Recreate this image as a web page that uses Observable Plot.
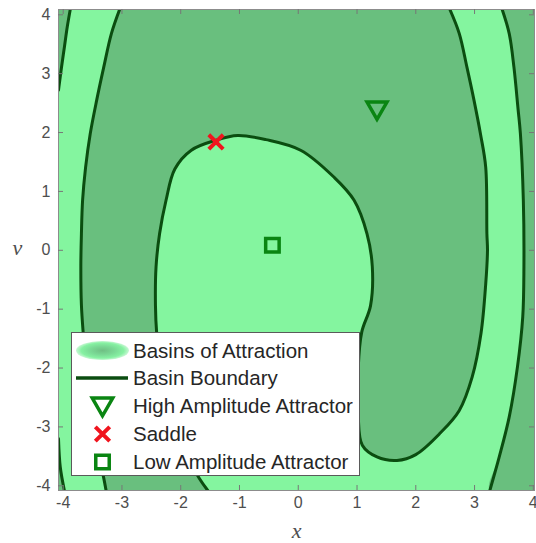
<!DOCTYPE html>
<html><head><meta charset="utf-8">
<script src="https://cdn.jsdelivr.net/npm/d3@7"></script>
<script src="https://cdn.jsdelivr.net/npm/@observablehq/plot@0.6"></script>
<style>
html,body{margin:0;padding:0;background:#fff;}
#wrap{position:relative;width:536px;height:543px;}
#legend{position:absolute;left:71px;top:332px;}
</style></head><body><div id="wrap"></div>
<script>
// ---- data ----
const xDomain = [-4.08, 4.02];
const yDomain = [-4.08, 4.09];
const xTicks = [-4, -3, -2, -1, 0, 1, 2, 3, 4];
const yTicks = [-4, -3, -2, -1, 0, 1, 2, 3, 4];
const xLabel = "x";
const yLabel = "v";
const legendLabels = ["Basins of Attraction", "Basin Boundary", "High Amplitude Attractor", "Saddle", "Low Amplitude Attractor"];

// boundary curves [x, v]
const curveTL = [[-3.88,4.09],[-3.93,3.80],[-3.98,3.45],[-4.03,3.10],[-4.08,2.72]];
const curveBL = [[-4.08,-3.20],[-4.05,-3.68],[-3.98,-4.08]];
const curveA = [[-3.04,4.09],[-3.18,3.68],[-3.31,3.11],[-3.43,2.55],[-3.54,1.98],[-3.62,1.40],[-3.67,0.85],[-3.69,0.28],[-3.70,-0.28],[-3.69,-0.93],[-3.66,-1.40],[-3.60,-2.10],[-3.51,-2.80],[-3.41,-3.40],[-3.31,-3.87],[-3.27,-4.08]];
const curveB = [[-1.54,-4.08],[-1.68,-3.88],[-1.95,-3.40],[-2.18,-2.80],[-2.33,-2.10],[-2.41,-1.40],[-2.43,-0.94],[-2.42,-0.28],[-2.36,0.28],[-2.25,0.85],[-2.10,1.38],[-1.82,1.70],[-1.40,1.87],[-1.03,1.95],[-0.55,1.88],[0.04,1.70],[0.61,1.24],[0.95,0.85],[1.17,0.28],[1.26,-0.28],[1.23,-0.94],[1.08,-1.39],[1.02,-2.00],[1.02,-2.80],[1.09,-3.31],[1.34,-3.51],[1.68,-3.57],[2.00,-3.47],[2.42,-3.10],[2.74,-2.72],[2.96,-2.15],[3.11,-1.41],[3.19,-0.57],[3.22,0.00],[3.21,0.28],[3.19,1.41],[3.10,1.98],[2.99,2.55],[2.87,3.11],[2.74,3.68],[2.58,4.09]];
const curveC = [[3.47,4.09],[3.59,3.68],[3.67,3.11],[3.74,2.40],[3.78,1.98],[3.83,0.85],[3.84,-0.28],[3.82,-1.13],[3.73,-1.98],[3.59,-2.83],[3.42,-3.51],[3.26,-4.08]];

// attractors / saddle
const highAmp = [[1.34, 2.42]];
const saddle = [[-1.40, 1.84]];
const lowAmp = [[-0.44, 0.085]];

// ---- styles ----
const light = "#84f59f";
const dark = "#69bf7e";
const boundary = "#0b4d10";
const green = "#0a8512";
const red = "#f0141e";
const axisGray = "#4e4e4e";
const textColor = "#262626";

// basin polygons (dark basin)
const [x0, x1] = xDomain, [y0, y1] = yDomain;
const polyTL = [...curveTL, [x0, y1]];
const polyBL = [...curveBL, [x0, y0]];
const polyBand = [...curveA, ...curveB];
const polyRight = [...curveC, [x1, y0], [x1, y1]];

const W = 536, H = 543, mL = 58, mR = 2, mT = 9, mB = 53;
const fH = H - mT - mB, fW = W - mL - mR, tk = 5;
const X = d => d[0], Y = d => d[1];

const poly = (p, curve) => Plot.line(p, {x: X, y: Y, fill: dark, stroke: "none", clip: true, curve});
const bnd = c => Plot.line(c, {x: X, y: Y, stroke: boundary, strokeWidth: 3, clip: true, curve: "catmull-rom"});

const chart = Plot.plot({
  width: W, height: H,
  marginLeft: mL, marginRight: mR, marginTop: mT, marginBottom: mB,
  x: {domain: xDomain},
  y: {domain: yDomain},
  style: {fontFamily: "'Liberation Sans', Arial, sans-serif", background: "white", color: axisGray},
  marks: [
    Plot.frame({fill: light, stroke: "none"}),
    poly(polyTL, "linear"), poly(polyBL, "linear"),
    poly(polyBand, "catmull-rom"), poly(polyRight, "catmull-rom"),
    bnd(curveTL), bnd(curveBL), bnd(curveA), bnd(curveB), bnd(curveC),
    Plot.dot(highAmp, {x: X, y: Y, symbol: "triangle", rotate: 180, r: 7.4, stroke: green, strokeWidth: 3.5, fill: "none"}),
    Plot.dot(saddle, {x: X, y: Y, symbol: "times", r: 6.6, stroke: red, strokeWidth: 4}),
    Plot.dot(lowAmp, {x: X, y: Y, symbol: "square", r: 7.6, stroke: green, strokeWidth: 3.5, fill: "none"}),
    Plot.frame({stroke: "#8c8c8c", strokeWidth: 1}),
    Plot.ruleX(xTicks, {x: d => d, insetTop: fH - tk, stroke: "#777"}),
    Plot.ruleX(xTicks, {x: d => d, insetBottom: fH - tk, stroke: "#777"}),
    Plot.ruleY(yTicks, {y: d => d, insetRight: fW - tk, stroke: "#777"}),
    Plot.ruleY(yTicks, {y: d => d, insetLeft: fW - tk, stroke: "#777"}),
    Plot.axisX(xTicks, {tickSize: 0, tickPadding: 6, fontSize: 16, color: axisGray, label: null, tickFormat: d => String(d)}),
    Plot.axisY(yTicks, {tickSize: 0, tickPadding: 8, fontSize: 16, color: axisGray, label: null, tickFormat: d => String(d)}),
    Plot.text([xLabel], {frameAnchor: "bottom", dy: 47, text: d => d, fontFamily: "'Liberation Serif', 'Times New Roman', serif", fontStyle: "italic", fontSize: 22, fill: axisGray}),
    Plot.text([yLabel], {frameAnchor: "left", dx: -46, dy: -2, text: d => d, fontFamily: "'Liberation Serif', 'Times New Roman', serif", fontStyle: "italic", fontSize: 22, fill: axisGray})
  ]
});
document.getElementById("wrap").appendChild(chart);

// ---- legend (overlay) ----
const lg = d3.select("#wrap").append("svg").attr("id", "legend")
  .attr("width", 292).attr("height", 146);
const defs = lg.append("defs");
const grad = defs.append("radialGradient").attr("id", "basinGrad");
grad.append("stop").attr("offset", "0%").attr("stop-color", "#6fbf84");
grad.append("stop").attr("offset", "45%").attr("stop-color", "#7ad995");
grad.append("stop").attr("offset", "80%").attr("stop-color", "#86f1a2");
grad.append("stop").attr("offset", "100%").attr("stop-color", "#c8f7d4");
lg.append("rect").attr("x", 0.5).attr("y", 0.5).attr("width", 288).attr("height", 143)
  .attr("fill", "white").attr("stroke", "#5a5a5a").attr("stroke-width", 1);
const rowY = [18.5, 46, 74, 102, 130];
const sx = 31.5;
lg.append("ellipse").attr("cx", sx).attr("cy", rowY[0]).attr("rx", 26.5).attr("ry", 9.5).attr("fill", "url(#basinGrad)");
lg.append("line").attr("x1", 5).attr("x2", 57).attr("y1", rowY[1]).attr("y2", rowY[1])
  .attr("stroke", boundary).attr("stroke-width", 3.5);
lg.append("path").attr("d", d3.symbol(d3.symbolTriangle, Math.PI * 7.6 * 7.6)())
  .attr("transform", `translate(${sx},${rowY[2] - 2}) rotate(180)`)
  .attr("fill", "none").attr("stroke", green).attr("stroke-width", 3.5);
lg.append("path").attr("d", d3.symbol(d3.symbolTimes, Math.PI * 6.6 * 6.6)())
  .attr("transform", `translate(${sx},${rowY[3]})`)
  .attr("fill", "none").attr("stroke", red).attr("stroke-width", 4);
lg.append("path").attr("d", d3.symbol(d3.symbolSquare, Math.PI * 7.6 * 7.6)())
  .attr("transform", `translate(${sx},${rowY[4]})`)
  .attr("fill", "none").attr("stroke", green).attr("stroke-width", 3.5);
lg.selectAll("text.lab").data(legendLabels).join("text").attr("class", "lab")
  .attr("x", 62).attr("y", (d, i) => rowY[i]).attr("dy", "0.35em")
  .attr("font-family", "'Liberation Sans', Arial, sans-serif").attr("font-size", 20.5)
  .attr("fill", textColor).text(d => d);
</script>
</body></html>
